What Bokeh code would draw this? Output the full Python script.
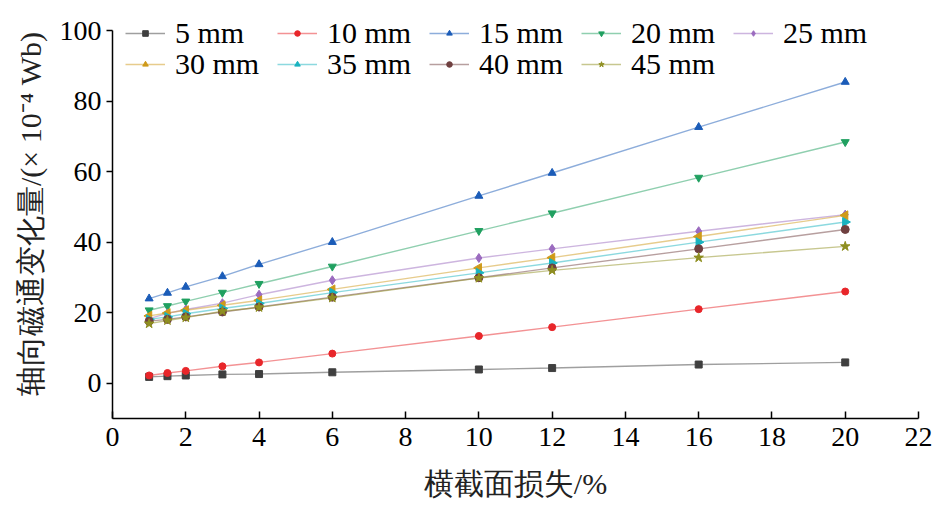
import math
from bokeh.plotting import figure
from bokeh.models import Range1d, Legend, LegendItem, FixedTicker
from bokeh.embed import file_html
from bokeh.resources import INLINE

x_loss = [1, 1.5, 2, 3, 4, 6, 10, 12, 16, 20]
labels = ["5 mm", "10 mm", "15 mm", "20 mm", "25 mm", "30 mm", "35 mm", "40 mm", "45 mm"]
s5 = [1.8, 2.0, 2.2, 2.5, 2.6, 3.1, 3.9, 4.3, 5.3, 5.9]
s10 = [2.2, 2.9, 3.5, 4.8, 5.9, 8.4, 13.4, 15.9, 21.0, 26.0]
s15 = [24.0, 25.6, 27.3, 30.3, 33.7, 40.0, 53.1, 59.6, 72.6, 85.4]
s20 = [20.7, 21.9, 23.2, 25.7, 28.2, 33.1, 43.2, 48.2, 58.3, 68.4]
s25 = [18.3, 19.8, 20.9, 22.7, 25.1, 29.2, 35.5, 38.1, 43.1, 47.8]
s30 = [19.1, 19.9, 20.7, 22.1, 23.5, 26.6, 32.7, 35.6, 41.6, 47.6]
s35 = [18.1, 18.8, 19.7, 21.2, 22.6, 25.7, 31.3, 34.1, 40.0, 45.7]
s40 = [17.6, 18.1, 18.8, 20.2, 21.6, 24.4, 29.9, 32.7, 38.1, 43.6]
s45 = [16.9, 17.8, 18.6, 20.4, 21.5, 24.2, 29.8, 32.0, 35.6, 38.8]
series = [s5, s10, s15, s20, s25, s30, s35, s40, s45]
x_ticks = [0, 2, 4, 6, 8, 10, 12, 14, 16, 18, 20, 22]
y_ticks = [0, 20, 40, 60, 80, 100]

colors = ["#3f3f3f", "#e8262a", "#1b5cb8", "#20a060", "#9b6bbf",
          "#cf9a1a", "#19b3c0", "#6f4040", "#8f8f20"]
markers = ["square", "circle", "triangle", "inverted_triangle", "diamond",
           "triangle", "triangle", "circle", "star"]
angles = [0, 0, 0, 0, 0, math.pi / 2, -math.pi / 2, 0, 0]
sizes = [7, 7, 8, 8, 9, 9, 9, 8, 10]

SERIF = "Liberation Serif"

# frame: bottom at 418 px, value 100 at 30 px; frame extended upward so the
# legend (which overlaps the top of the axis) is not clipped
Y_MIN, Y_AXIS_MAX = -10, 100
px_per_unit = 388 / (Y_AXIS_MAX - Y_MIN)
frame_top = 9
y_top = Y_MIN + (418 - frame_top) / px_per_unit

p = figure(width=945, height=511, output_backend="svg", toolbar_location=None,
           x_range=Range1d(0, 22), y_range=Range1d(Y_MIN, y_top),
           min_border_left=112, min_border_right=27, min_border_top=frame_top,
           min_border_bottom=93)
p.outline_line_color = None
p.xgrid.visible = False
p.ygrid.visible = False
p.background_fill_color = "white"
p.border_fill_color = "white"

items = []
for lab, ys, c, m, a, sz in zip(labels, series, colors, markers, angles, sizes):
    r1 = p.line(x_loss, ys, line_color=c, line_alpha=0.5, line_width=1.4)
    r2 = p.scatter(x_loss, ys, marker=m, angle=a, size=sz, fill_color=c,
                   line_color=c)
    items.append(LegendItem(label=lab, renderers=[r1, r2]))


def make_legend(its, loc):
    lg = Legend(items=its, orientation="horizontal",
                location=loc, glyph_width=40, glyph_height=14,
                label_standoff=10, label_width=88, spacing=14, padding=0,
                margin=0, label_text_font=SERIF, label_text_font_size="30px",
                label_text_color="black", border_line_color=None,
                background_fill_alpha=0)
    p.add_layout(lg, "center")
    return lg


make_legend(items[:5], (13, 368))
make_legend(items[5:], (13, 337))

for ax in (p.xaxis[0], p.yaxis[0]):
    ax.axis_line_color = "black"
    ax.axis_line_width = 1.5
    ax.major_tick_line_color = "black"
    ax.major_tick_line_width = 1.5
    ax.minor_tick_line_color = None
    ax.major_label_text_font = SERIF
    ax.major_label_text_font_size = "28px"
    ax.major_label_text_color = "black"
    ax.axis_label_text_font = SERIF
    ax.axis_label_text_font_size = "30px"
    ax.axis_label_text_font_style = "normal"
    ax.axis_label_text_color = "#222222"

p.yaxis.bounds = (Y_MIN, Y_AXIS_MAX)
p.xaxis.ticker = FixedTicker(ticks=x_ticks)
p.yaxis.ticker = FixedTicker(ticks=y_ticks)
p.xaxis.major_tick_in = 7
p.xaxis.major_tick_out = 0
p.yaxis.major_tick_in = 0
p.yaxis.major_tick_out = 6
p.xaxis.major_label_standoff = 9
p.yaxis.major_label_standoff = 5
p.xaxis.axis_label = "横截面损失/%"
p.yaxis.axis_label = "轴向磁通变化量/(× 10⁻⁴ Wb)"
p.xaxis.axis_label_standoff = 18
p.yaxis.axis_label_standoff = 10

open("out.html", "w").write(file_html(p, INLINE))
